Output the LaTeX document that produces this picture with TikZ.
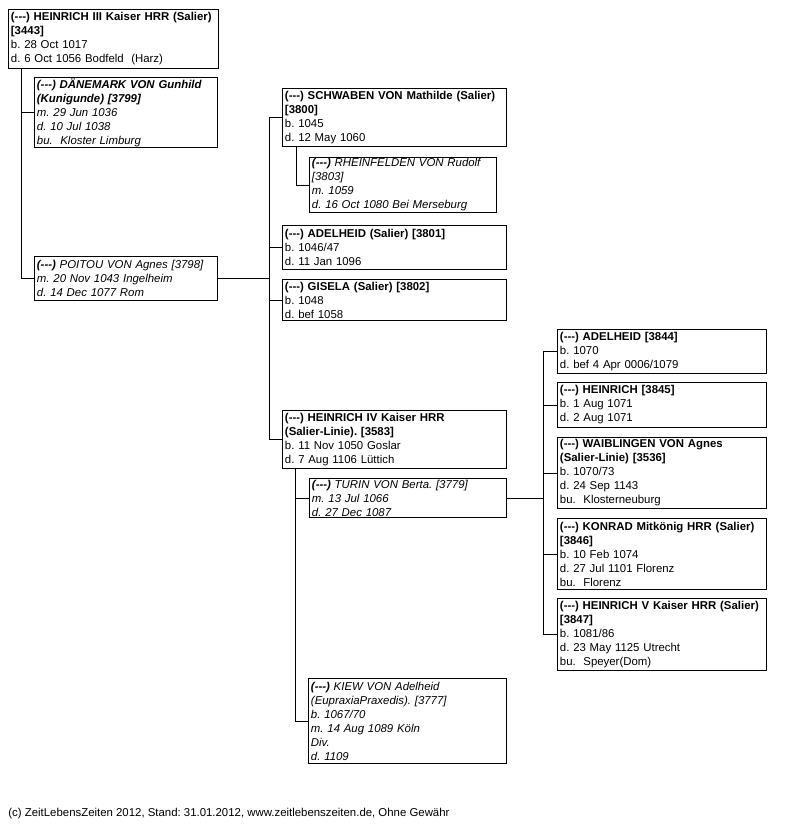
\documentclass[tikz,border=0pt]{standalone}
\usepackage{fontspec}
\setmainfont{Liberation Sans}[Ligatures=TeXOff]
\usepackage{tikz}
\usetikzlibrary{calc}
\newcommand{\chartfont}{\fontsize{11.4}{14}\selectfont\frenchspacing}
\tikzset{
	% Two box styles for the family chart: blood line and spouse
	person box/.style={rectangle,draw,anchor=north west,align=left,inner xsep=2.5,inner ysep=0,font=\chartfont},
	spouse box/.style={person box,font=\chartfont\itshape}
}

\begin{document}
\begin{tikzpicture}[x=1pt,y=-1pt,line width=0.9pt]
			% macro for a box: [style]{corner}{name}{width}{height}{text}
			\newcommand{\fambox}[6][person box]{\node[#1,minimum width=#4,minimum height=#5,text width=#4-5]at(#2)(#3){#6};}
			\useasboundingbox (0,0) rectangle (796,824);
			
			% Heinrich III and his wives
			\fambox{8,9}{h3}{210}{59}{\textbf{(---) HEINRICH III Kaiser HRR (Salier)}\\\textbf{[3443]}\\b. 28 Oct 1017\\d. 6 Oct 1056 Bodfeld\ \ (Harz)}
			\fambox[spouse box]{34,77}{gunhild}{183}{70}{\textbf{(---) DÄNEMARK VON Gunhild}\\\textbf{(Kunigunde) [3799]}\\m. 29 Jun 1036\\d. 10 Jul 1038\\bu.\ \ Kloster Limburg}
			\fambox[spouse box]{34,256}{agnes}{183}{44}{\textbf{(---)} POITOU VON Agnes [3798]\\m. 20 Nov 1043 Ingelheim\\d. 14 Dec 1077 Rom}
			
			% children of Heinrich III and Agnes
			\fambox{282,88}{mathilde}{224}{58}{\textbf{(---) SCHWABEN VON Mathilde (Salier)}\\\textbf{[3800]}\\b. 1045\\d. 12 May 1060}
			\fambox[spouse box]{309,157}{rudolf}{187}{55}{\textbf{(---)} RHEINFELDEN VON Rudolf\\{}[3803]\\m. 1059\\d. 16 Oct 1080 Bei Merseburg}
			\fambox{282,225}{adelheid}{224}{44}{\textbf{(---) ADELHEID (Salier) [3801]}\\b. 1046/47\\d. 11 Jan 1096}
			\fambox{282,279}{gisela}{224}{41}{\textbf{(---) GISELA (Salier) [3802]}\\b. 1048\\d. bef 1058}
			\fambox{282,410}{heinrich4}{224}{58}{\textbf{(---) HEINRICH IV Kaiser HRR}\\\textbf{(Salier-Linie). [3583]}\\b. 11 Nov 1050 Goslar\\d. 7 Aug 1106 Lüttich}
			
			% wives of Heinrich IV
			\fambox[spouse box]{309,478}{berta}{197}{39}{\textbf{(---)} TURIN VON Berta. [3779]\\m. 13 Jul 1066\\d. 27 Dec 1087}
			\fambox[spouse box]{308,678}{praxedis}{198}{85}{\textbf{(---)} KIEW VON Adelheid\\(EupraxiaPraxedis). [3777]\\b. 1067/70\\m. 14 Aug 1089 Köln\\Div.\\d. 1109}
			
			% children of Heinrich IV and Berta
			\fambox{557,329}{adelheidb}{209}{44}{\textbf{(---) ADELHEID [3844]}\\b. 1070\\d. bef 4 Apr 0006/1079}
			\fambox{557,382}{heinrichb}{209}{45}{\textbf{(---) HEINRICH [3845]}\\b. 1 Aug 1071\\d. 2 Aug 1071}
			\fambox{557,437}{agnesb}{209}{71}{\textbf{(---) WAIBLINGEN VON Agnes}\\\textbf{(Salier-Linie) [3536]}\\b. 1070/73\\d. 24 Sep 1143\\bu.\ \ Klosterneuburg}
			\fambox{557,518}{konrad}{209}{71}{\textbf{(---) KONRAD Mitkönig HRR (Salier)}\\\textbf{[3846]}\\b. 10 Feb 1074\\d. 27 Jul 1101 Florenz\\bu.\ \ Florenz}
			\fambox{557,598}{heinrich5}{209}{72}{\textbf{(---) HEINRICH V Kaiser HRR (Salier)}\\\textbf{[3847]}\\b. 1081/86\\d. 23 May 1125 Utrecht\\bu.\ \ Speyer(Dom)}
			
			% connectors
			\draw ($(h3.south west)+(13,0)$) coordinate(t0) |- (agnes.west);
			\draw (gunhild.west) -- (gunhild.west -| t0);
			\draw (mathilde.west) -- ++(-13,0) coordinate(t1) |- (heinrich4.west);
			\draw (agnes.east) -- (agnes.east -| t1);
			\draw (adelheid.west) -- (adelheid.west -| t1);
			\draw (gisela.west) -- (gisela.west -| t1);
			\draw ($(mathilde.south west)+(14,0)$) |- (rudolf.west);
			\draw ($(heinrich4.south west)+(13,0)$) coordinate(t2) |- (praxedis.west);
			\draw (berta.west) -- (berta.west -| t2);
			\draw (adelheidb.west) -- ++(-14,0) coordinate(t3) |- (heinrich5.west);
			\draw (berta.east) -- (berta.east -| t3);
			\draw (heinrichb.west) -- (heinrichb.west -| t3);
			\draw (agnesb.west) -- (agnesb.west -| t3);
			\draw (konrad.west) -- (konrad.west -| t3);
			
			\node[anchor=base west,inner sep=0,font=\chartfont](footer)at(8,816){(c) ZeitLebensZeiten 2012, Stand: 31.01.2012, www.zeitlebenszeiten.de, Ohne Gewähr};
		\end{tikzpicture}
\end{document}
